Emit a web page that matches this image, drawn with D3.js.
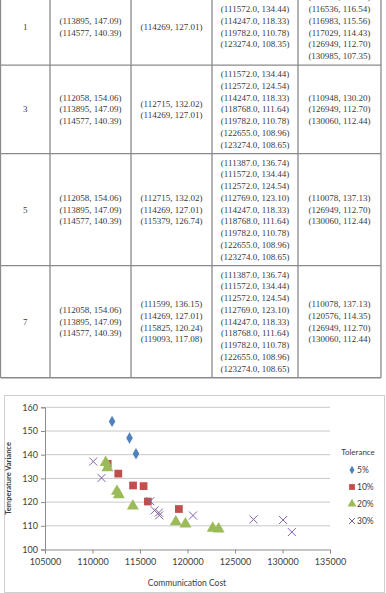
<!DOCTYPE html>
<html><head><meta charset="utf-8">
<script src="https://cdn.jsdelivr.net/npm/d3@7"></script>
<style>
html,body{margin:0;padding:0;background:#fff;}
svg{display:block;}
.tbl text{font-family:"Liberation Serif","DejaVu Serif",serif;}
</style></head>
<body>
<svg id="c" width="386" height="593"></svg>
<script>
// ---------- table data ----------
const rowLabels = ["1", "3", "5", "7"];
const tol5Col = [
  [[113895,147.09],[114577,140.39]],
  [[112058,154.06],[113895,147.09],[114577,140.39]],
  [[112058,154.06],[113895,147.09],[114577,140.39]],
  [[112058,154.06],[113895,147.09],[114577,140.39]]
];
const tol10Col = [
  [[114269,127.01]],
  [[112715,132.02],[114269,127.01]],
  [[112715,132.02],[114269,127.01],[115379,126.74]],
  [[111599,136.15],[114269,127.01],[115825,120.24],[119093,117.08]]
];
const tol20Col = [
  [[111572,134.44],[114247,118.33],[119782,110.78],[123274,108.35]],
  [[111572,134.44],[112572,124.54],[114247,118.33],[118768,111.64],[119782,110.78],[122655,108.96],[123274,108.65]],
  [[111387,136.74],[111572,134.44],[112572,124.54],[112769,123.10],[114247,118.33],[118768,111.64],[119782,110.78],[122655,108.96],[123274,108.65]],
  [[111387,136.74],[111572,134.44],[112572,124.54],[112769,123.10],[114247,118.33],[118768,111.64],[119782,110.78],[122655,108.96],[123274,108.65]]
];
const tol30Col = [
  [[116083,120.38],[116536,116.54],[116983,115.56],[117029,114.43],[126949,112.70],[130985,107.35]],
  [[110948,130.20],[126949,112.70],[130060,112.44]],
  [[110078,137.13],[126949,112.70],[130060,112.44]],
  [[110078,137.13],[120576,114.35],[126949,112.70],[130060,112.44]]
];

// ---------- chart data ----------
const series = ["5%", "10%", "20%", "30%"];
const cost5 = [112058,113895,114577];
const var5  = [154.06,147.09,140.39];
const cost10 = [111599,112715,114269,115379,115825,119093];
const var10  = [136.15,132.02,127.01,126.74,120.24,117.08];
const cost20 = [111387,111572,112572,112769,114247,118768,119782,122655,123274];
const var20  = [136.74,134.44,124.54,123.10,118.33,111.64,110.78,108.96,108.65];
const cost30 = [110078,110948,116083,116536,116983,117029,120576,126949,130060,130985];
const var30  = [137.13,130.20,120.38,116.54,115.56,114.43,114.35,112.70,112.44,107.35];
const xTicks = [105000,110000,115000,120000,125000,130000,135000];
const yTicks = [100,110,120,130,140,150,160];

const svg = d3.select("#c");

// ---------- table ----------
const colX = [0.5, 50, 131, 212, 298, 381];
const lineH = 11.75, padV = 6.3;
const cols = [null, tol5Col, tol10Col, tol20Col, tol30Col];
const fmtA = p => `(${p[0]}, ${p[1].toFixed(2)})`;
const fmtB = p => `(${p[0].toFixed(1)}, ${p[1].toFixed(2)})`;
const tbl = svg.append("g").attr("class", "tbl")
  .attr("font-size", 9).attr("fill", "#3a3a3a");
let rowTop = -11.7;
const lineColor = "#8a8a8a";
rowLabels.forEach((lab, r) => {
  const n = d3.max([tol5Col[r].length, tol10Col[r].length, tol20Col[r].length, tol30Col[r].length]);
  const h = n * lineH + padV;
  const cy = rowTop + h / 2;
  tbl.append("text").attr("x", (colX[0] + colX[1]) / 2).attr("y", cy)
    .attr("text-anchor", "middle").attr("dominant-baseline", "central").text(lab);
  [1, 2, 3, 4].forEach(c => {
    const pts = cols[c][r];
    const fmt = c === 3 ? fmtB : fmtA;
    const cx = (colX[c] + colX[c + 1]) / 2;
    pts.forEach((p, i) => {
      tbl.append("text").attr("x", cx)
        .attr("y", cy + (i - (pts.length - 1) / 2) * lineH)
        .attr("text-anchor", "middle").attr("dominant-baseline", "central")
        .text(fmt(p));
    });
  });
  tbl.append("line").attr("x1", colX[0]).attr("x2", colX[5])
    .attr("y1", rowTop + h).attr("y2", rowTop + h)
    .attr("stroke", lineColor).attr("stroke-width", 1.3);
  colX.forEach(xx => {
    tbl.append("line").attr("x1", xx).attr("x2", xx).attr("y1", rowTop).attr("y2", rowTop + h)
      .attr("stroke", lineColor).attr("stroke-width", 1.3);
  });
  rowTop += h;
});

// ---------- chart ----------
svg.append("rect").attr("x", 4.5).attr("y", 395.5).attr("width", 380).attr("height", 197)
  .attr("fill", "#fff").attr("stroke", "#d0d0d0").attr("stroke-width", 1);

const x = d3.scaleLinear().domain([105000, 135000]).range([45, 330]);
const y = d3.scaleLinear().domain([100, 160]).range([549.5, 407.3]);
const font = "Lato, 'Liberation Sans', sans-serif";
const g = svg.append("g").attr("font-family", font);

g.append("g").selectAll("line").data(yTicks.slice(1)).join("line")
  .attr("x1", x.range()[0]).attr("x2", x.range()[1])
  .attr("y1", d => y(d)).attr("y2", d => y(d))
  .attr("stroke", "#c8c8c8").attr("stroke-width", 1);

const yAxis = g.append("g").attr("transform", `translate(${x.range()[0]},0)`)
  .call(d3.axisLeft(y).tickValues(yTicks).tickSize(4).tickPadding(3));
const xAxis = g.append("g").attr("transform", `translate(0,${y.range()[0]})`)
  .call(d3.axisBottom(x).tickValues(xTicks).tickFormat(d3.format("d")).tickSize(4).tickPadding(5));
[yAxis, xAxis].forEach(a => {
  a.selectAll("path, line").attr("stroke", "#8c8c8c");
  a.selectAll("text").attr("font-family", font).attr("font-size", 9).attr("fill", "#404040");
});

g.append("text").attr("x", 187).attr("y", 586).attr("text-anchor", "middle")
  .attr("font-size", 8.5).attr("fill", "#404040").text("Communication Cost");
g.append("text").attr("transform", `translate(8,${(y.range()[0] + y.range()[1]) / 2}) rotate(-90)`)
  .attr("text-anchor", "middle").attr("dominant-baseline", "central").attr("font-size", 7.5).attr("font-weight", "bold")
  .attr("fill", "#404040").text("Temperature Variance");

const colors = ["#4F81BD", "#C0504D", "#9BBB59", "#8064A2"];
const shapes = [d3.symbolDiamond, d3.symbolSquare, d3.symbolTriangle, null];
const sizes = [38, 60, 62, 0];
const data = [[cost5, var5], [cost10, var10], [cost20, var20], [cost30, var30]];

function drawMarker(sel, i, px, py, scale) {
  if (i === 3) {
    const s = 4 * scale;
    sel.append("path").attr("d", `M${px - s},${py - s}L${px + s},${py + s}M${px - s},${py + s}L${px + s},${py - s}`)
      .attr("stroke", colors[3]).attr("stroke-width", 1).attr("fill", "none");
  } else {
    sel.append("path").attr("d", d3.symbol().type(shapes[i]).size(sizes[i] * scale * scale)())
      .attr("transform", `translate(${px},${py})`).attr("fill", colors[i]);
  }
}
const marks = g.append("g");
data.forEach((d, i) => {
  d[0].forEach((cv, k) => drawMarker(marks, i, x(cv), y(d[1][k]), 1));
});

const lg = g.append("g");
lg.append("text").attr("x", 358).attr("y", 455).attr("text-anchor", "middle")
  .attr("font-size", 8).attr("fill", "#404040").text("Tolerance");
series.forEach((s, i) => {
  const ly = 470 + i * 17;
  drawMarker(lg, i, 352, ly, 0.75);
  lg.append("text").attr("x", 357).attr("y", ly).attr("dominant-baseline", "central")
    .attr("font-size", 8.5).attr("fill", "#404040").text(s);
});
</script>
</body></html>
